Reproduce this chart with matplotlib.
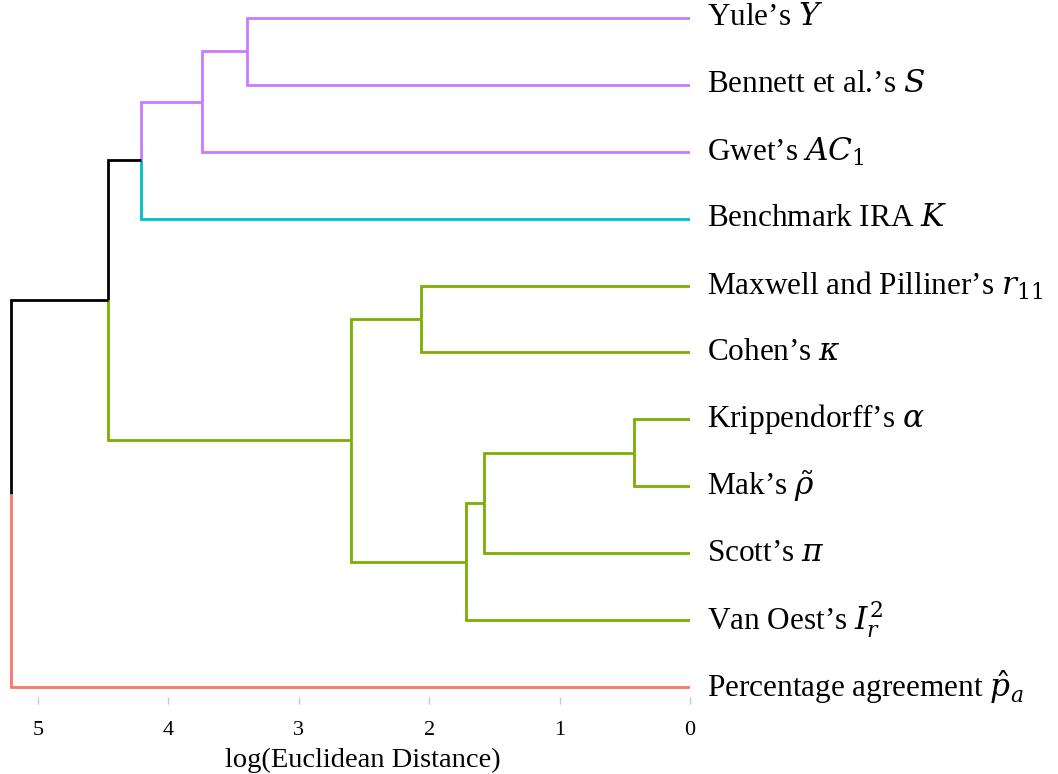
import numpy as np
import matplotlib
matplotlib.use("Agg")
import matplotlib.pyplot as plt

plt.rcParams['font.family'] = ['Liberation Serif', 'DejaVu Serif']
plt.rcParams['mathtext.fontset'] = 'custom'
plt.rcParams['mathtext.rm'] = 'DejaVu Serif'
plt.rcParams['mathtext.it'] = 'DejaVu Serif:italic'
plt.rcParams['mathtext.bf'] = 'DejaVu Serif:bold'

# leaves, top to bottom
labels = ["Yule\u2019s $Y$",
          "Bennett et al.\u2019s $S$",
          "Gwet\u2019s $AC_1$",
          "Benchmark IRA $K$",
          "Maxwell and Pilliner\u2019s $r_{11}$",
          "Cohen\u2019s $\\kappa$",
          "Krippendorff\u2019s $\\alpha$",
          "Mak\u2019s $\\tilde{\\rho}$",
          "Scott\u2019s $\\pi$",
          "Van Oest\u2019s $I_r^2$",
          "Percentage agreement $\\hat{p}_a$"]
leaf_cluster = ["purple", "purple", "purple", "teal", "green", "green",
                "green", "green", "green", "green", "red"]

# merges: ids >= 11 refer to earlier merges (11 = first row, ...)
merge_a = [0, 11, 12, 4, 6, 15, 16, 14, 13, 19]
merge_b = [1, 2, 3, 5, 7, 8, 9, 17, 18, 10]
merge_h = [3.40, 3.74, 4.21, 2.06, 0.43, 1.58, 1.72, 2.60, 4.46, 5.21]

colours = {"purple": "#c77cff", "teal": "#00bfc4", "green": "#7cae00",
           "red": "#f8766d", "black": "black"}

n = len(labels)
ypos = list(range(n))
hgt = [0.0] * n
col = list(leaf_cluster)
for a, b, h in zip(merge_a, merge_b, merge_h):
    ypos.append((ypos[a] + ypos[b]) / 2)
    hgt.append(h)
    col.append(col[a] if col[a] == col[b] else "black")

fig = plt.figure(figsize=(10.58, 7.74), dpi=100)
ax = fig.add_axes([0.0051, 0.0995, 0.6471, 0.8902])

for i, (a, b, h) in enumerate(zip(merge_a, merge_b, merge_h)):
    node = n + i
    for c in (a, b):
        ax.plot([hgt[c], h, h], [ypos[c], ypos[c], ypos[node]],
                color=colours[col[c]], lw=2.0, solid_capstyle='butt',
                solid_joinstyle='miter')

for i, lab in enumerate(labels):
    ax.text(-0.13, i, lab, ha='left', va='center', fontsize=22.5,
            clip_on=False)

ax.set_xlim(5.25, 0)
ax.set_ylim(10.1495, -0.1495)
ax.set_xticks(range(6))
ax.set_yticks([])
for s in ax.spines.values():
    s.set_visible(False)
ax.tick_params(axis='x', length=5, width=1, color='#c8c8c8', labelsize=16,
               pad=12)
ax.set_xlabel("log(Euclidean Distance)", fontsize=20.5)
ax.xaxis.set_label_coords(0.522, -0.074)

fig.savefig("out.png", dpi=100)
